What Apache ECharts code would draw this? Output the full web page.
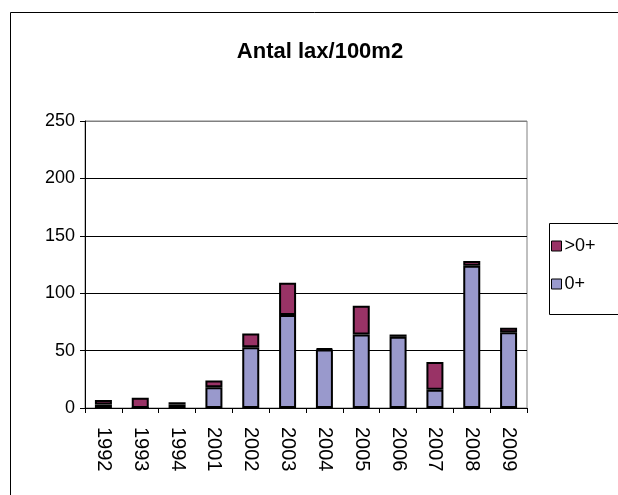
<!DOCTYPE html>
<html>
<head>
<meta charset="utf-8">
<script src="https://cdn.jsdelivr.net/npm/echarts@6/dist/echarts.min.js"></script>
<style>
html,body{margin:0;padding:0;background:#fff;}
#chart{width:618px;height:495px;}
</style>
</head>
<body>
<div id="chart"></div>
<script>
var categories = ['1992','1993','1994','2001','2002','2003','2004','2005','2006','2007','2008','2009'];
var young = [3, 0, 3, 18, 53, 81, 51, 64, 62, 16, 124, 66];      // 0+
var older = [4, 9, 2, 6, 12, 28, 1, 25, 2, 24, 4, 4];            // >0+
var yTicks = [0, 50, 100, 150, 200, 250];
var titleText = 'Antal lax/100m2';

var chart = echarts.init(document.getElementById('chart'), null, {renderer: 'canvas'});
var font = 'Liberation Sans, Arial, sans-serif';
chart.setOption({
  animation: false,
  backgroundColor: '#fff',
  textStyle: {fontFamily: font},
  graphic: [
    {type: 'rect', shape: {x: 10.5, y: 12.5, width: 800, height: 800}, style: {fill: 'none', stroke: '#000', lineWidth: 1}, silent: true, z: -10},
    {type: 'rect', shape: {x: 549.5, y: 223.5, width: 200, height: 91}, style: {fill: '#fff', stroke: '#000', lineWidth: 1}, silent: true, z: -5},
    {type: 'text', x: 320, y: 52, style: {text: titleText, font: 'bold 22px ' + font, fill: '#000', textAlign: 'center', textVerticalAlign: 'middle'}}
  ],
  legend: {
    data: ['>0+', '0+'],
    orient: 'vertical',
    left: 546,
    top: 232,
    itemWidth: 10,
    itemHeight: 10,
    itemGap: 20,
    icon: 'rect',
    textStyle: {fontSize: 18, color: '#000', fontFamily: font, padding: [0, 0, 0, -2]},
    itemStyle: {borderColor: '#000', borderWidth: 1}
  },
  grid: {left: 85, right: 91, top: 121, bottom: 87, show: true, borderColor: '#808080', borderWidth: 1, containLabel: false},
  xAxis: {
    type: 'category',
    data: categories,
    axisLine: {lineStyle: {color: '#000', width: 1}},
    axisTick: {show: true, length: 5, lineStyle: {color: '#000'}},
    axisLabel: {rotate: -90, fontSize: 20, color: '#000', margin: 19, fontFamily: font, interval: 0}
  },
  yAxis: {
    type: 'value',
    min: yTicks[0],
    max: yTicks[yTicks.length - 1],
    interval: 50,
    axisLine: {show: true, lineStyle: {color: '#000', width: 1}},
    axisTick: {show: true, length: 5, lineStyle: {color: '#000'}},
    axisLabel: {fontSize: 18, color: '#000', margin: 10, fontFamily: font},
    splitLine: {show: true, lineStyle: {color: ['#000', '#000', '#000', '#000', '#000', '#808080'], width: 1}}
  },
  series: [
    {name: '0+', type: 'bar', stack: 'a', data: young, barWidth: 17,
     itemStyle: {color: '#9999CC', borderColor: '#000', borderWidth: 2}},
    {name: '>0+', type: 'bar', stack: 'a', data: older, barWidth: 17,
     itemStyle: {color: '#993366', borderColor: '#000', borderWidth: 2}}
  ]
});
</script>
</body>
</html>
